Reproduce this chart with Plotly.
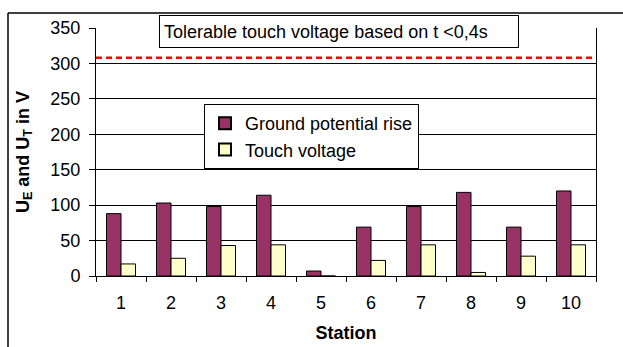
import plotly.graph_objects as go

# Measured values per station
stations = ["1", "2", "3", "4", "5", "6", "7", "8", "9", "10"]
ground_potential_rise = [88, 103, 98, 114, 7, 69, 98, 118, 69, 120]
touch_voltage = [17, 25, 43, 44, 0, 22, 44, 5, 28, 44]
tolerable_limit = 308
y_ticks = [0, 50, 100, 150, 200, 250, 300, 350]

FONT = "Liberation Sans, Arial, sans-serif"
FS = 18

fig = go.Figure()
fig.add_trace(go.Bar(
    x=stations, y=ground_potential_rise, name="Ground potential rise",
    marker=dict(color="#993366", line=dict(color="#000000", width=1)),
))
fig.add_trace(go.Bar(
    x=stations, y=touch_voltage, name="Touch voltage",
    marker=dict(color="#FFFFCC", line=dict(color="#000000", width=1)),
))

# Tolerable touch voltage limit
fig.add_shape(type="line", xref="x domain", yref="y",
              x0=0, x1=1, y0=tolerable_limit, y1=tolerable_limit,
              line=dict(color="#FF0000", width=2.5, dash="6px,4px"))

# Outer chart frame (top and left edges only are within the page)
frame_x = (8 - 96) / 500
frame_y = (276 - 13) / 248
fig.add_shape(type="line", xref="paper", yref="paper",
              x0=frame_x, x1=1.06, y0=frame_y, y1=frame_y,
              line=dict(color="#000000", width=1.5))
fig.add_shape(type="line", xref="paper", yref="paper",
              x0=frame_x, x1=frame_x, y0=-0.3, y1=frame_y,
              line=dict(color="#000000", width=1.5))

fig.add_annotation(
    xref="paper", yref="paper", x=(159 - 96) / 500, y=(276 - 15) / 248,
    xanchor="left", yanchor="top", showarrow=False,
    text="Tolerable touch voltage based on t &lt;0,4s",
    font=dict(family=FONT, size=FS, color="#000000"),
    bgcolor="#FFFFFF", bordercolor="#000000", borderwidth=1,
    borderpad=4, width=350, height=23, align="left",
)

fig.update_layout(
    width=623, height=347,
    margin=dict(l=96, r=27, t=28, b=71),
    paper_bgcolor="#FFFFFF", plot_bgcolor="#FFFFFF",
    barmode="group", bargap=0.42, bargroupgap=0,
    font=dict(family=FONT, size=FS, color="#000000"),
    showlegend=True,
    legend=dict(
        x=(204 - 96) / 500, y=(276 - 104) / 248, xanchor="left", yanchor="top",
        bgcolor="#FFFFFF", bordercolor="#000000", borderwidth=1,
        font=dict(family=FONT, size=FS), itemsizing="constant",
        tracegroupgap=2, itemwidth=30, entrywidth=195,
    ),
    xaxis=dict(
        type="category", showline=True, linecolor="#000000", linewidth=1,
        ticks="outside", tickson="boundaries", ticklen=5, tickcolor="#000000",
        showgrid=False, mirror=False, ticklabelstandoff=10, automargin=False,
        title=dict(text="<b>Station</b>", font=dict(size=FS), standoff=14),
        tickfont=dict(size=FS),
    ),
    yaxis=dict(
        range=[0, 350], tickvals=y_ticks, showline=True, linecolor="#000000",
        linewidth=1, mirror=True, ticks="outside", ticklen=6, tickcolor="#000000",
        showgrid=True, gridcolor="#000000", gridwidth=1, zeroline=False,
        ticklabelstandoff=5, automargin=False,
        title=dict(text="<b>U<sub>E</sub> and U<sub>T</sub> in V</b>",
                   font=dict(size=FS), standoff=16),
        tickfont=dict(size=FS),
    ),
)

fig.write_html("out.html")
